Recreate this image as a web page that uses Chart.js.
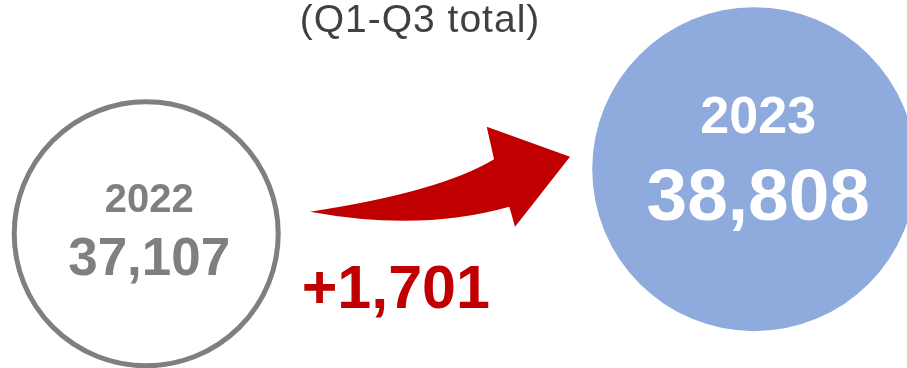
<!DOCTYPE html>
<html>
<head>
<meta charset="utf-8">
<script src="https://cdn.jsdelivr.net/npm/chart.js@4/dist/chart.umd.min.js"></script>
<style>
  html, body { margin: 0; padding: 0; background: #ffffff; overflow: hidden; }
  canvas { display: block; }
</style>
</head>
<body>
<canvas id="c" width="907" height="368"></canvas>
<script>
// Year-to-date totals (Q1-Q3) for each year
const years = [2022, 2023];
const totals = [37107, 38808];
const periodLabel = '(Q1-Q3 total)';

const FONT = '"Liberation Sans", Arial, Helvetica, sans-serif';
const fmt = n => n.toLocaleString('en-US');

// Arrow, figures and period caption drawn over the two bubbles
const overlay = {
  id: 'overlay',
  afterDatasetsDraw(chart) {
    const ctx = chart.ctx;
    const a = chart.getDatasetMeta(0).data[0];
    const b = chart.getDatasetMeta(1).data[0];
    const P = (dx, dy) => [a.x + dx, a.y + dy];

    ctx.save();

    // curved arrow from the earlier year towards the later one
    const tail = P(163.8, -22.1);
    const cTop = P(293.8, -41.8);
    const notchTop = P(347.8, -74.5);
    const barbTop = P(340.5, -107.1);
    const tip = P(423.8, -77.1);
    const barbBot = P(368.8, -7.1);
    const notchBot = P(363.1, -27.1);
    const cBot = P(273.8, -1.8);
    ctx.beginPath();
    ctx.moveTo(...tail);
    ctx.quadraticCurveTo(...cTop, ...notchTop);
    ctx.lineTo(...barbTop);
    ctx.lineTo(...tip);
    ctx.lineTo(...barbBot);
    ctx.lineTo(...notchBot);
    ctx.quadraticCurveTo(...cBot, ...tail);
    ctx.closePath();
    ctx.fillStyle = '#C00000';
    ctx.fill();

    ctx.textAlign = 'center';
    ctx.textBaseline = 'alphabetic';

    // earlier year
    ctx.fillStyle = '#7F7F7F';
    ctx.font = 'bold 40px ' + FONT;
    ctx.fillText(String(years[0]), a.x + 3, a.y - 21.8);
    ctx.font = 'bold 53px ' + FONT;
    ctx.fillText(fmt(totals[0]), a.x + 3, a.y + 41);

    // later year
    ctx.fillStyle = '#FFFFFF';
    ctx.font = 'bold 52px ' + FONT;
    ctx.fillText(String(years[1]), b.x + 4, b.y - 36);
    ctx.font = 'bold 73px ' + FONT;
    ctx.fillText(fmt(totals[1]), b.x + 4, b.y + 51);

    // change between the two years
    const diff = totals[1] - totals[0];
    ctx.fillStyle = '#C00000';
    ctx.font = 'bold 61px ' + FONT;
    ctx.fillText((diff >= 0 ? '+' : '') + fmt(diff), a.x + 249.6, a.y + 74.5);

    // period caption
    ctx.fillStyle = '#404040';
    ctx.font = '39px ' + FONT;
    ctx.letterSpacing = '1px';
    ctx.fillText(periodLabel, 420, 32);

    ctx.restore();
  }
};

new Chart(document.getElementById('c'), {
  type: 'scatter',
  data: {
    datasets: [
      {
        label: String(years[0]),
        data: [{ x: years[0], y: totals[0] }],
        pointRadius: 132,
        pointBackgroundColor: '#FFFFFF',
        pointBorderColor: '#7F7F7F',
        pointBorderWidth: 5,
        clip: false
      },
      {
        label: String(years[1]),
        data: [{ x: years[1], y: totals[1] }],
        pointRadius: 162,
        pointBackgroundColor: '#8FAADC',
        pointBorderColor: '#8FAADC',
        pointBorderWidth: 0,
        clip: false
      }
    ]
  },
  options: {
    responsive: false,
    animation: false,
    events: [],
    layout: { padding: 0, autoPadding: false },
    scales: {
      x: { type: 'linear', display: false, min: 2021.7595, max: 2023.2513 },
      y: { type: 'linear', display: false, min: 33573, max: 43263 }
    },
    plugins: {
      legend: { display: false },
      tooltip: { enabled: false },
      title: { display: false }
    }
  },
  plugins: [overlay]
});
</script>
</body>
</html>
